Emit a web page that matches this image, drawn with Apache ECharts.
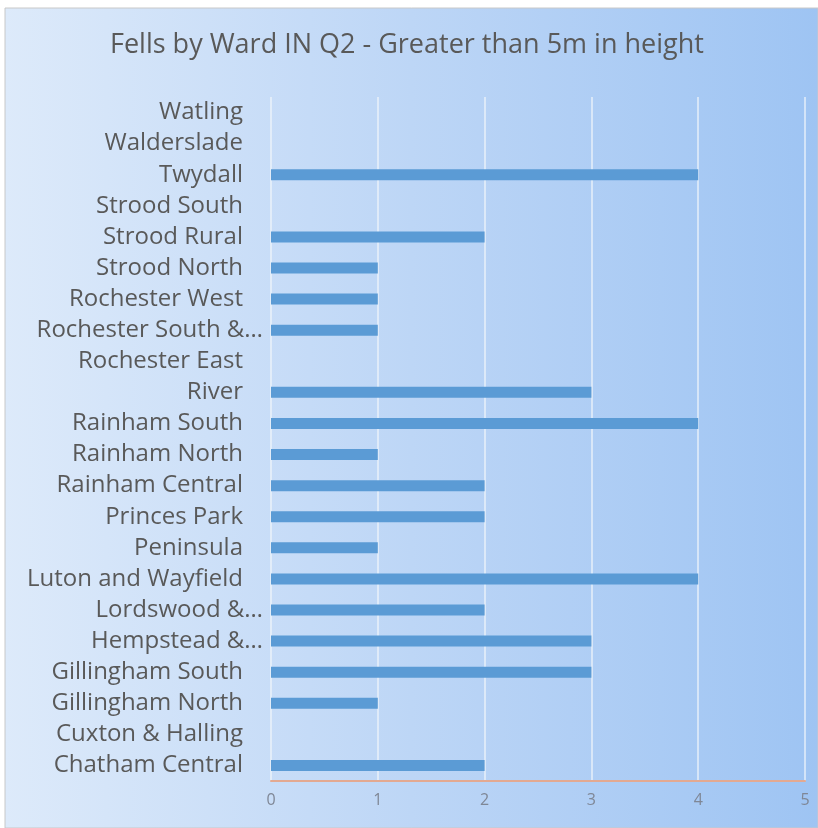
<!DOCTYPE html>
<html>
<head>
<meta charset="utf-8">
<script src="https://cdn.jsdelivr.net/npm/echarts@6/dist/echarts.min.js"></script>
<style>
html,body{margin:0;padding:0;background:#ffffff;}
#main{width:818px;height:828px;}
</style>
</head>
<body>
<div id="main"></div>
<script>
const categories = ["Chatham Central","Cuxton & Halling","Gillingham North","Gillingham South","Hempstead &…","Lordswood &…","Luton and Wayfield","Peninsula","Princes Park","Rainham Central","Rainham North","Rainham South","River","Rochester East","Rochester South &…","Rochester West","Strood North","Strood Rural","Strood South","Twydall","Walderslade","Watling"];
const values = [2,0,1,3,3,2,4,1,2,2,1,4,3,0,1,1,1,2,0,4,0,0];
const xTicks = [0,1,2,3,4,5];

const chart = echarts.init(document.getElementById('main'));
chart.setOption({
  animation:false,
  graphic:[
    {type:'rect', z:-10, silent:true, shape:{x:5,y:8,width:813,height:820},
     style:{fill:new echarts.graphic.LinearGradient(0,0,1,0,[{offset:0,color:'#ddeafa'},{offset:0.5,color:'#bdd6f6'},{offset:1,color:'#9ec4f3'}]), stroke:'#c8c8c8', lineWidth:1}}
  ],
  title:{text:'Fells by Ward IN Q2 - Greater than 5m in height', left:105, top:27,
    textStyle:{fontFamily:'Open Sans', fontSize:27, fontWeight:'normal', color:'#595959'}},
  grid:{left:271, right:13, top:97, bottom:47, containLabel:false},
  xAxis:{type:'value', min:xTicks[0], max:xTicks[xTicks.length-1], interval:1,
    axisLine:{show:true, lineStyle:{color:'#e3a991', width:2}}, axisTick:{show:false},
    splitLine:{show:true, lineStyle:{color:'rgba(240,244,250,0.85)', width:1.5}},
    axisLabel:{margin:11, fontFamily:'Open Sans', fontSize:16, color:'#7f8796'}},
  yAxis:{type:'category', data:categories,
    axisLine:{show:false},
    axisTick:{show:false},
    splitLine:{show:false},
    axisLabel:{interval:0, hideOverlap:false, margin:8, fontFamily:'Open Sans', fontSize:24, color:'#595959',
      formatter:function(v){ return v.indexOf('…')>=0 ? '{e|'+v+'}' : '{n|'+v+'}'; },
      rich:{
        n:{fontFamily:'Open Sans', fontSize:24, color:'#595959', padding:[0,20,0,0]},
        e:{fontFamily:'Open Sans', fontSize:24, color:'#595959', padding:[0,0,0,0]}
      }}},
  series:[{type:'bar', data:values, barWidth:11, itemStyle:{color:'#5b9bd5'}}]
});
</script>
</body>
</html>
